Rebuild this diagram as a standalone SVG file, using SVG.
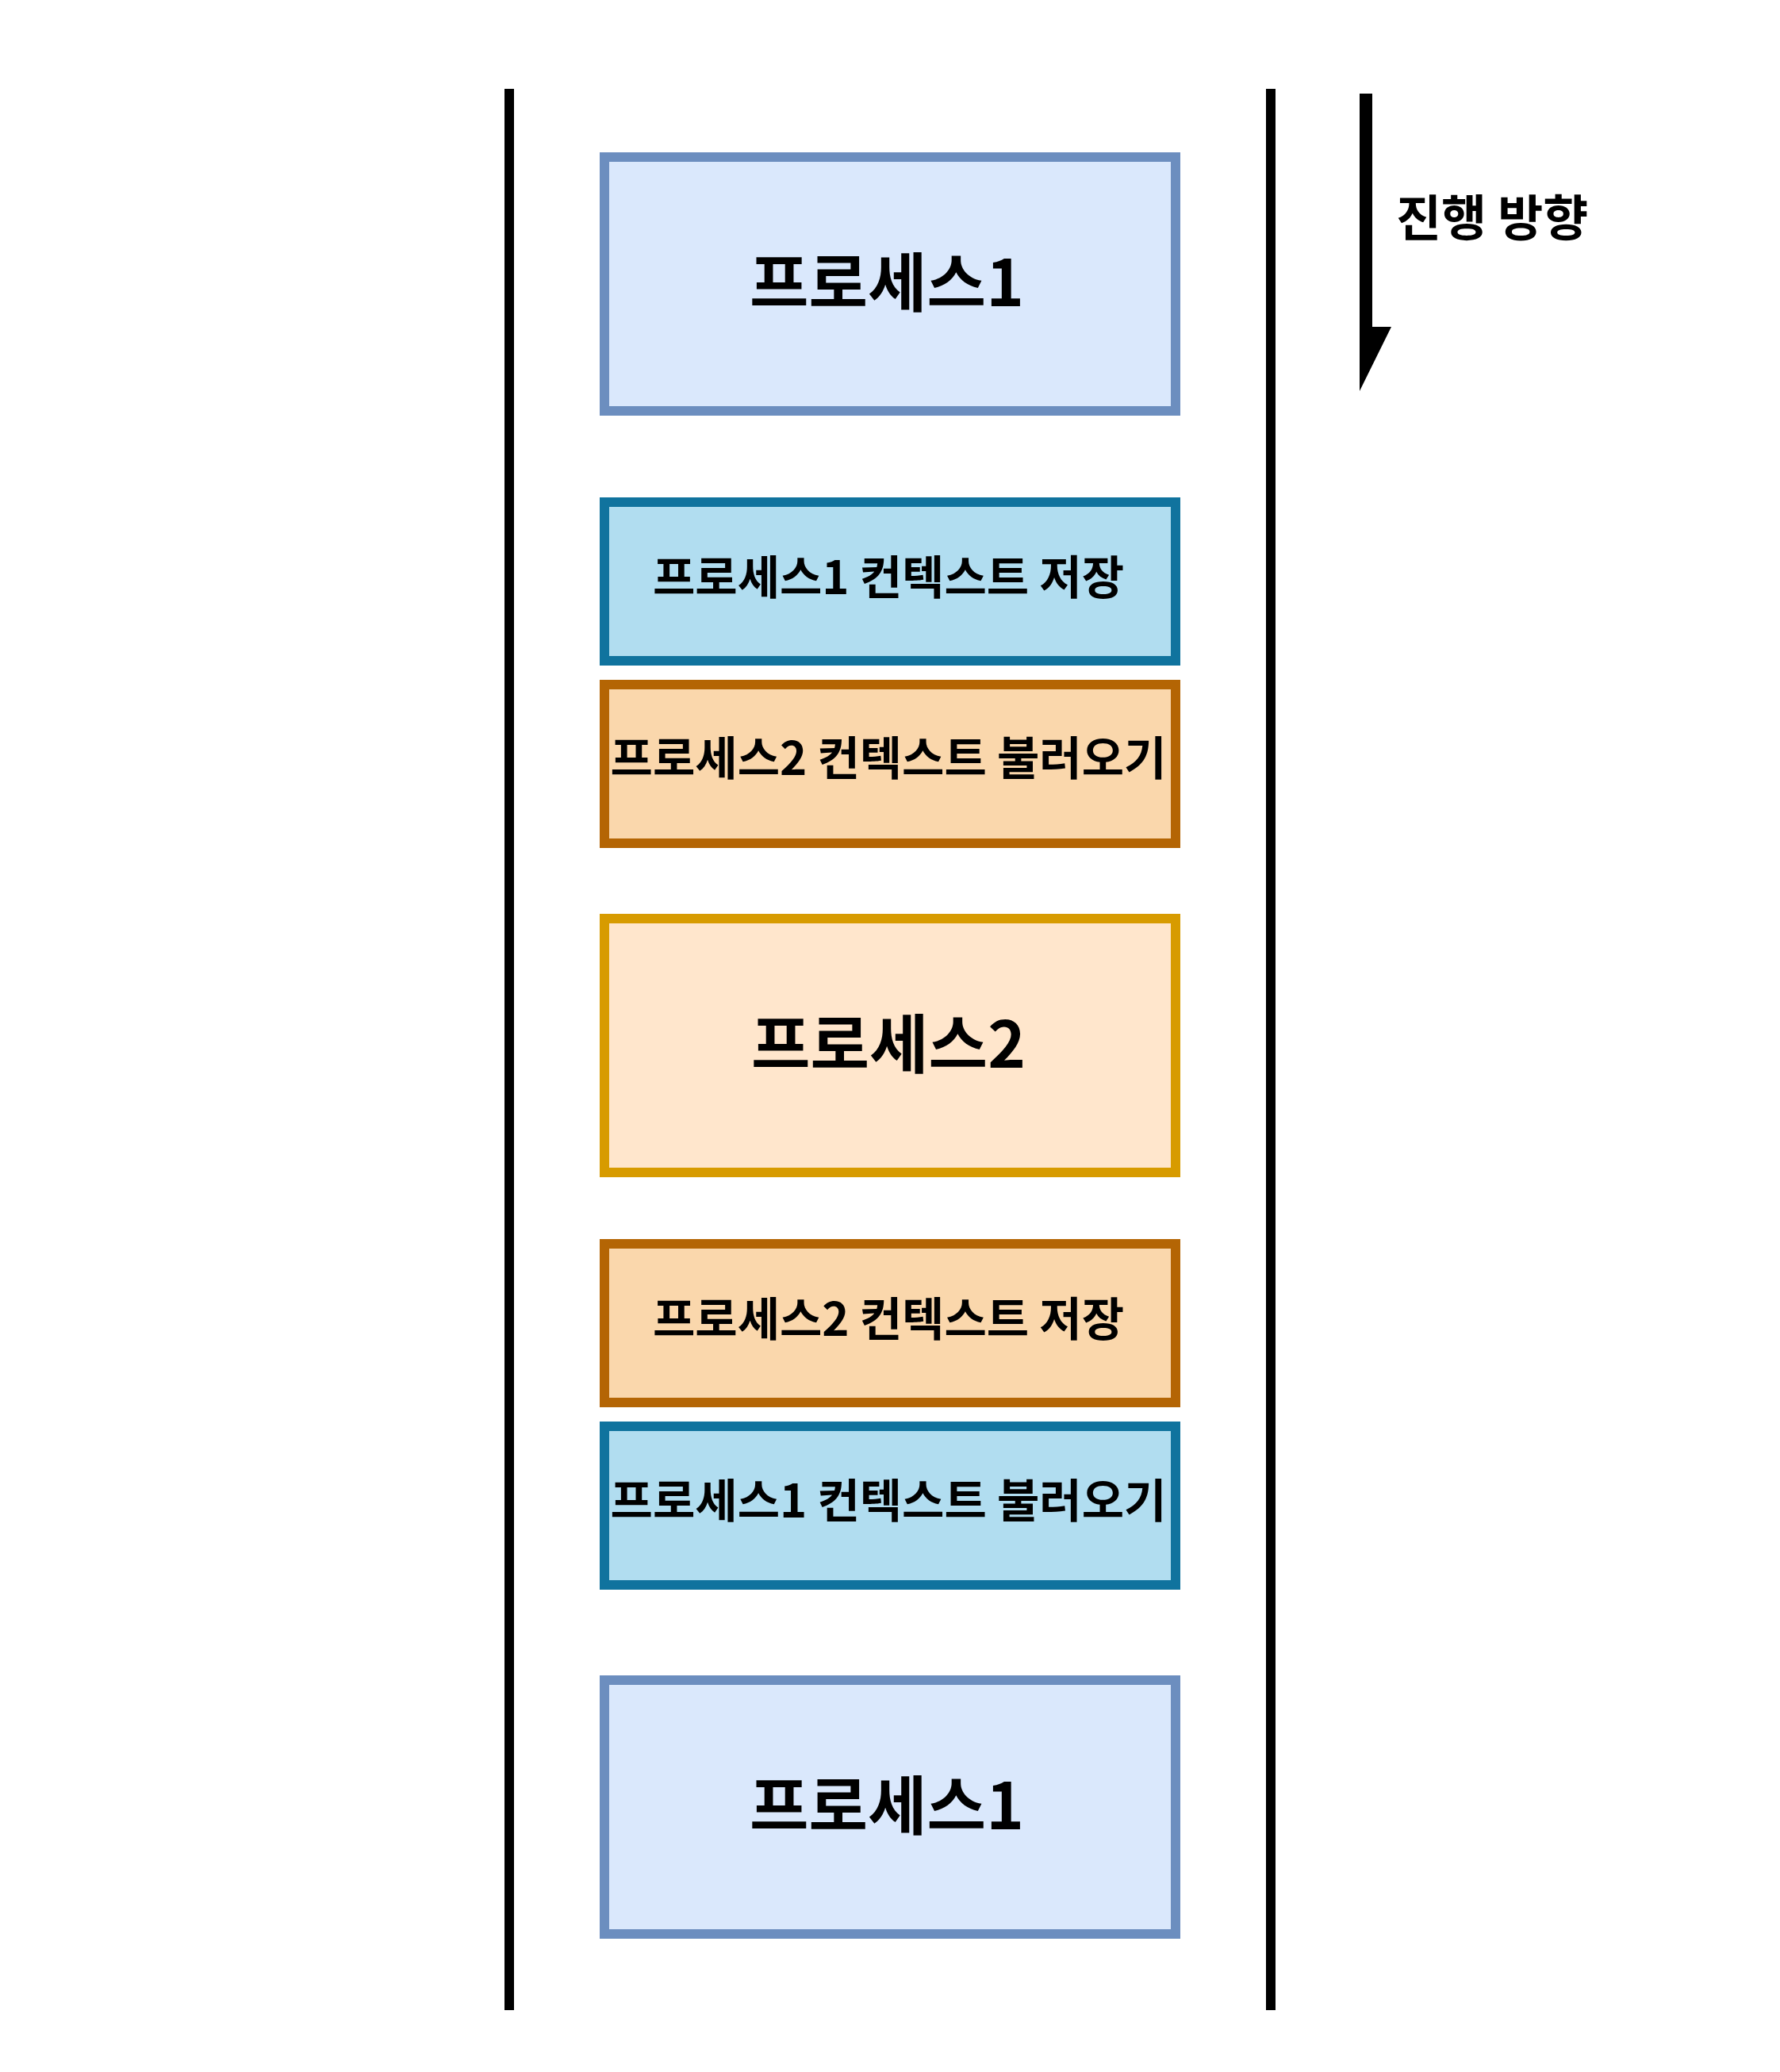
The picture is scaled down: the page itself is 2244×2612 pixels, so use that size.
<svg xmlns="http://www.w3.org/2000/svg" width="2244" height="2612" viewBox="0 0 2244 2612">
<style>
.lane{stroke:#000;stroke-width:12;fill:none}
.box{stroke-width:12}
.blue{fill:#dae8fc;stroke:#6c8ebf}
.cyan{fill:#b1ddf0;stroke:#10739e}
.orange{fill:#fad7ac;stroke:#b46504}
.amber{fill:#ffe6cc;stroke:#d79b00}
text{font-family:"Noto Sans CJK KR","Noto Sans",sans-serif;font-weight:bold;fill:#000;dominant-baseline:central}
.big{font-size:81px;text-anchor:middle}
.mid{font-size:58px;text-anchor:middle}
.lbl{font-size:62px}
</style>
<rect width="2244" height="2612" fill="#fff"/>
<g id="lanes">
<line class="lane" x1="642" y1="112" x2="642" y2="2534"/>
<line class="lane" x1="1602" y1="112" x2="1602" y2="2534"/>
</g>
<g id="connectors">
<polygon points="1714,118 1730,118 1730,412 1754,412 1714,493" fill="#000"/>
</g>
<g id="direction-label">
<text class="lbl" x="1760" y="271">진행 방향</text>
</g>
<g id="process1-a">
<rect class="box blue" x="762" y="198" width="720" height="320"/>
<text class="big" x="1118" y="350">프로세스1</text>
</g>
<g id="save1">
<rect class="box cyan" x="762" y="633" width="720" height="200"/>
<text class="mid" x="1120" y="724">프로세스1 컨텍스트 저장</text>
</g>
<g id="load2">
<rect class="box orange" x="762" y="863" width="720" height="200"/>
<text class="mid" x="1120" y="952">프로세스2 컨텍스트 불러오기</text>
</g>
<g id="process2">
<rect class="box amber" x="762" y="1158" width="720" height="320"/>
<text class="big" x="1120" y="1310">프로세스2</text>
</g>
<g id="save2">
<rect class="box orange" x="762" y="1568" width="720" height="200"/>
<text class="mid" x="1120" y="1659">프로세스2 컨텍스트 저장</text>
</g>
<g id="load1">
<rect class="box cyan" x="762" y="1798" width="720" height="200"/>
<text class="mid" x="1120" y="1888">프로세스1 컨텍스트 불러오기</text>
</g>
<g id="process1-b">
<rect class="box blue" x="762" y="2118" width="720" height="320"/>
<text class="big" x="1118" y="2270">프로세스1</text>
</g>
</svg>
